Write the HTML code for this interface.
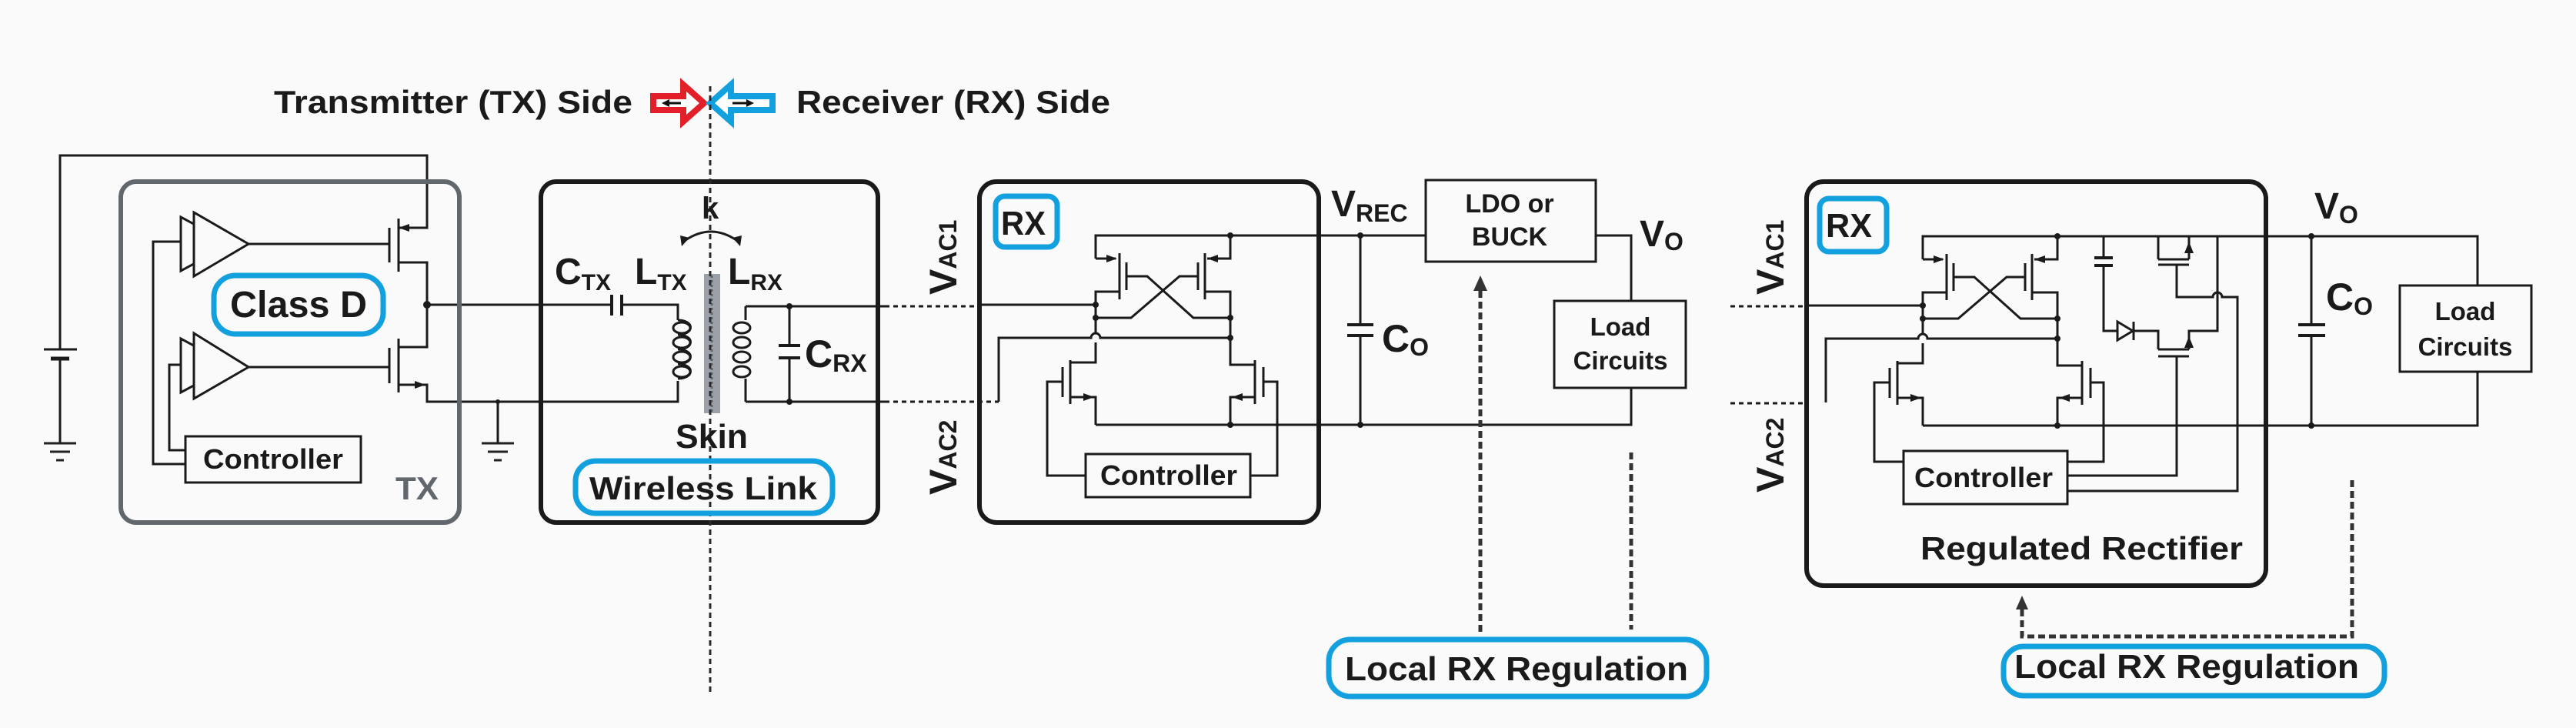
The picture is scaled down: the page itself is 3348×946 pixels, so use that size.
<!DOCTYPE html>
<html><head><meta charset="utf-8"><style>
html,body{margin:0;padding:0;background:#fafafa;}
svg{display:block;}
text{font-family:"Liberation Sans",Arial,sans-serif;font-weight:bold;fill:#1a1a1a;}
</style></head><body>
<svg width="3348" height="946" viewBox="0 0 3348 946" xmlns="http://www.w3.org/2000/svg">
<rect x="0" y="0" width="3348" height="946" fill="#fafafa"/>
<defs>
<g id="gnd"><path d="M-21,0 H21 M-13,11 H13 M-5,22 H5" stroke="#222" stroke-width="3" fill="none"/></g>
</defs>

<!-- Title -->
<text x="356" y="147" font-size="42" textLength="466" lengthAdjust="spacingAndGlyphs">Transmitter (TX) Side</text>
<text x="1035" y="147" font-size="42" textLength="408" lengthAdjust="spacingAndGlyphs">Receiver (RX) Side</text>
<polygon points="849,125 888,125 888,110 915,134 888,158 888,143 849,143" fill="#fff" stroke="#e3202a" stroke-width="8" stroke-linejoin="miter"/>
<path d="M885,134 H864" stroke="#111" stroke-width="3"/><polygon points="860,134 870,129 870,139" fill="#111"/>
<polygon points="1004,125 950,125 950,110 923,134 950,158 950,143 1004,143" fill="#fff" stroke="#12a0df" stroke-width="8"/>
<path d="M952,134 H975" stroke="#111" stroke-width="3"/><polygon points="980,134 970,129 970,139" fill="#111"/>

<g stroke="#1a1a1a" stroke-width="3" fill="none">
<!-- TX side wires -->
<path d="M78,454 V202 H555 V296 H518"/>
<path d="M57,454 H100"/><path d="M66,466 H90" stroke-width="5"/>
<path d="M78,466 V576"/>
<path d="M518,284 V353 M506,296 V341 M323,317 H506"/>
<path d="M518,341 H555 V451 H518"/>
<path d="M518,440 V510 M506,452 V498 M323,477 H506"/>
<path d="M518,500 H555 V522 H881 V495"/>
<path d="M555,396 H795 M808,396 H881 V416"/>
<path d="M795,383 V410 M808,383 V410" stroke-width="4"/>
<path d="M647,522 V576"/>
<path d="M235,314 H199 V603 H241"/>
<path d="M235,474 H220 V585 H241"/>
</g>
<polygon points="518,296 532,291 532,301" fill="#1a1a1a"/>
<polygon points="553,500 539,495 539,505" fill="#1a1a1a"/>
<circle cx="555" cy="396" r="5" fill="#1a1a1a"/>
<circle cx="647" cy="522" r="3" fill="#1a1a1a"/>
<use href="#gnd" x="78" y="576"/>
<use href="#gnd" x="647" y="576"/>
<!-- amps -->
<g stroke="#1a1a1a" stroke-width="3" fill="#fafafa">
<polygon points="235,282 235,352 300,317"/>
<polygon points="252,276 252,359 323,317"/>
<polygon points="235,440 235,510 300,475"/>
<polygon points="252,433 252,518 323,477"/>
</g>
<!-- TX box -->
<rect x="157" y="236" width="440" height="443" rx="20" fill="none" stroke="#62666d" stroke-width="6"/>
<rect x="241" y="567" width="228" height="60" fill="#fafafa" stroke="#1a1a1a" stroke-width="3"/>
<text x="264" y="609" font-size="36" textLength="182" lengthAdjust="spacingAndGlyphs">Controller</text>
<text x="514" y="649" font-size="42" textLength="56" lengthAdjust="spacingAndGlyphs" style="fill:#62666d">TX</text>
<rect x="278" y="358" width="220" height="76" rx="28" fill="#fafafa" stroke="#12a0df" stroke-width="7"/>
<text x="299" y="412" font-size="48" textLength="178" lengthAdjust="spacingAndGlyphs">Class D</text>

<!-- Wireless link box -->
<rect x="703" y="236" width="438" height="443" rx="20" fill="none" stroke="#1a1a1a" stroke-width="6"/>
<rect x="915" y="356" width="21" height="181" fill="#9ca1a9"/>
<path d="M925,358 V535" stroke="#5d626a" stroke-width="3" stroke-dasharray="3 3"/>
<g stroke="#1a1a1a" stroke-width="3" fill="none">
<path d="M881,416 c22,0 22,19 0,19 c22,0 22,19 0,19 c22,0 22,19 0,19 c22,0 22,19 0,19" />
<ellipse cx="886" cy="426" rx="11" ry="7"/><ellipse cx="886" cy="445" rx="11" ry="7"/><ellipse cx="886" cy="464" rx="11" ry="7"/><ellipse cx="886" cy="483" rx="11" ry="7"/>
<path d="M969,398 V416 M969,492 V522"/>
<ellipse cx="964" cy="426" rx="11" ry="7"/><ellipse cx="964" cy="445" rx="11" ry="7"/><ellipse cx="964" cy="464" rx="11" ry="7"/><ellipse cx="964" cy="483" rx="11" ry="7"/>
<path d="M969,398 H1150 M969,522 H1150"/>
<path d="M1026,398 V449 M1026,465 V522"/>
<path d="M1012,449 H1040 M1012,465 H1040" stroke-width="4"/>
<path d="M1150,398 H1271 M1150,522 H1298" stroke-dasharray="6 5"/>
<path d="M891,312 Q924,290 957,312"/>
</g>
<polygon points="886,320 884,306 896,309" fill="#1a1a1a"/>
<polygon points="962,320 964,306 952,309" fill="#1a1a1a"/>
<circle cx="1026" cy="398" r="4" fill="#1a1a1a"/><circle cx="1026" cy="522" r="4" fill="#1a1a1a"/>
<path d="M923,112 V900" stroke="#2a2a2a" stroke-width="3" stroke-dasharray="7 5"/>
<text x="912" y="284" font-size="40">k</text>
<text x="721" y="369" font-size="48">C<tspan font-size="30" dy="8">TX</tspan></text>
<text x="825" y="369" font-size="48">L<tspan font-size="30" dy="8">TX</tspan></text>
<text x="946" y="369" font-size="48">L<tspan font-size="30" dy="8">RX</tspan></text>
<text x="1046" y="477" font-size="50">C<tspan font-size="32" dy="6">RX</tspan></text>
<text x="878" y="582" font-size="44" textLength="94" lengthAdjust="spacingAndGlyphs">Skin</text>
<rect x="748" y="599" width="334" height="68" rx="26" fill="none" stroke="#12a0df" stroke-width="7"/>
<text x="766" y="649" font-size="42" textLength="296" lengthAdjust="spacingAndGlyphs">Wireless Link</text>

<!-- VAC labels -->
<text transform="translate(1243,383) rotate(-90)" font-size="50">V<tspan font-size="32">AC1</tspan></text>
<text transform="translate(1243,643) rotate(-90)" font-size="50">V<tspan font-size="32">AC2</tspan></text>
<text transform="translate(2318,383) rotate(-90)" font-size="50">V<tspan font-size="32">AC1</tspan></text>
<text transform="translate(2318,640) rotate(-90)" font-size="50">V<tspan font-size="32">AC2</tspan></text>
<path d="M2249,398 H2348 M2249,524 H2348" stroke="#1a1a1a" stroke-width="3" stroke-dasharray="6 5"/>

<!-- Rectifier core (first) -->
<g id="rect" stroke="#1a1a1a" stroke-width="3" fill="none">
<path d="M1424,336 V306 H1599 V336 H1569"/>
<path d="M1424,336 H1450"/>
<path d="M1455,329 V389 M1464,341 V377 M1566,329 V389 M1557,341 V377"/>
<path d="M1455,379 H1424 V433 M1424,445 V471 H1391"/>
<path d="M1566,379 H1599 V474 H1631"/>
<path d="M1464,359 H1491 L1551,413 H1599 M1557,359 H1533 L1470,413 H1424"/>
<path d="M1391,468 V525 M1381,477 V516 M1631,468 V525 M1642,477 V516"/>
<path d="M1391,516 H1424 V552 M1631,516 H1599 V552"/>
<path d="M1424,552 H1599"/>
<path d="M1271,396 H1424"/>
<path d="M1298,522 V439 H1418 A6,6 0 0 1 1430,439 H1599"/>
</g>
<g id="rectf" fill="#1a1a1a">
<polygon points="1452,336 1438,331 1438,341"/><polygon points="1569,336 1583,331 1583,341"/>
<polygon points="1422,516 1408,511 1408,521"/><polygon points="1601,516 1615,511 1615,521"/>
<circle cx="1424" cy="396" r="4"/><circle cx="1424" cy="413" r="4"/><circle cx="1599" cy="306" r="4"/><circle cx="1599" cy="413" r="4"/><circle cx="1599" cy="439" r="4"/><circle cx="1599" cy="552" r="4"/>
</g>
<use href="#rect" x="1075" y="1"/>
<use href="#rectf" x="1075" y="1"/>

<!-- first RX externals -->
<g stroke="#1a1a1a" stroke-width="3" fill="none">
<path d="M1599,306 H1853 M1599,552 H2120 V504"/>
<path d="M1381,496 H1361 V618 H1411 M1642,496 H1660 V618 H1625"/>
<path d="M1768,306 V422 M1768,436 V552"/>
<path d="M1751,422 H1785 M1751,436 H1785" stroke-width="4"/>
<path d="M2074,306 H2120 V391"/>
</g>
<circle cx="1768" cy="306" r="4" fill="#1a1a1a"/><circle cx="1768" cy="552" r="4" fill="#1a1a1a"/>
<rect x="1273" y="236" width="441" height="443" rx="22" fill="none" stroke="#1a1a1a" stroke-width="6"/>
<rect x="1411" y="590" width="214" height="56" fill="#fafafa" stroke="#1a1a1a" stroke-width="3"/>
<text x="1430" y="630" font-size="36" textLength="178" lengthAdjust="spacingAndGlyphs">Controller</text>
<rect x="1294" y="255" width="80" height="66" rx="12" fill="#fafafa" stroke="#12a0df" stroke-width="7"/>
<text x="1301" y="305" font-size="44" textLength="58" lengthAdjust="spacingAndGlyphs">RX</text>
<text x="1730" y="281" font-size="48">V<tspan font-size="32" dy="7">REC</tspan></text>
<text x="1796" y="457" font-size="50">C<tspan font-size="32" dy="5">O</tspan></text>
<rect x="1853" y="234" width="221" height="106" fill="#fafafa" stroke="#1a1a1a" stroke-width="3"/>
<text x="1962" y="276" font-size="34" text-anchor="middle">LDO or</text>
<text x="1962" y="319" font-size="34" text-anchor="middle">BUCK</text>
<text x="2131" y="320" font-size="48">V<tspan font-size="32" dy="5">O</tspan></text>
<rect x="2020" y="391" width="171" height="113" fill="#fafafa" stroke="#1a1a1a" stroke-width="3"/>
<text x="2106" y="436" font-size="33" text-anchor="middle">Load</text>
<text x="2106" y="480" font-size="33" text-anchor="middle">Circuits</text>
<path d="M1924,821 V372" stroke="#333" stroke-width="5" stroke-dasharray="9 5"/>
<polygon points="1924,358 1915,378 1933,378" fill="#333"/>
<path d="M2120,588 V818" stroke="#333" stroke-width="5" stroke-dasharray="9 5"/>
<rect x="1727" y="831" width="491" height="74" rx="28" fill="#fafafa" stroke="#12a0df" stroke-width="7"/>
<text x="1748" y="884" font-size="44" textLength="446" lengthAdjust="spacingAndGlyphs">Local RX Regulation</text>

<!-- second RX externals -->
<g stroke="#1a1a1a" stroke-width="3" fill="none">
<path d="M2674,307 H3220 V371 M2674,553 H3220 V483"/>
<path d="M2456,497 H2436 V600 H2474 M2717,497 H2734 V600 H2687"/>
<path d="M2734,307 V335 M2734,345 V430 H2752"/>
<path d="M2722,335 H2746 M2722,345 H2746" stroke-width="4"/>
<polygon points="2752,418 2752,442 2772,430" fill="#fafafa"/>
<path d="M2773,418 V442 M2773,430 H2805 V454"/>
<path d="M2805,454 H2845 M2805,463 H2845 M2845,454 V430 H2882 V307"/>
<path d="M2805,307 V337 M2845,337 V307 M2805,337 H2845 M2805,344 H2845"/>
<path d="M2829,344 V386 H2876 A6,6 0 0 1 2888,386 H2908 V638 H2687"/>
<path d="M2829,463 V618 H2687"/>
<path d="M3004,307 V422 M3004,436 V553"/>
<path d="M2987,422 H3022 M2987,436 H3022" stroke-width="4"/>
</g>
<polygon points="2845,437 2839,452 2851,452" fill="#1a1a1a"/>
<polygon points="2845,314 2839,329 2851,329" fill="#1a1a1a"/>
<circle cx="3004" cy="307" r="4" fill="#1a1a1a"/><circle cx="3004" cy="553" r="4" fill="#1a1a1a"/>
<rect x="2348" y="236" width="597" height="525" rx="22" fill="none" stroke="#1a1a1a" stroke-width="6"/>
<rect x="2474" y="586" width="213" height="69" fill="#fafafa" stroke="#1a1a1a" stroke-width="3"/>
<text x="2488" y="633" font-size="36" textLength="180" lengthAdjust="spacingAndGlyphs">Controller</text>
<rect x="2365" y="258" width="87" height="69" rx="12" fill="#fafafa" stroke="#12a0df" stroke-width="7"/>
<text x="2373" y="308" font-size="44" textLength="60" lengthAdjust="spacingAndGlyphs">RX</text>
<text x="2496" y="727" font-size="42" textLength="419" lengthAdjust="spacingAndGlyphs">Regulated Rectifier</text>
<text x="3008" y="284" font-size="48">V<tspan font-size="32" dy="6">O</tspan></text>
<text x="3023" y="403" font-size="50">C<tspan font-size="32" dy="6">O</tspan></text>
<rect x="3119" y="371" width="171" height="112" fill="#fafafa" stroke="#1a1a1a" stroke-width="3"/>
<text x="3204" y="416" font-size="33" text-anchor="middle">Load</text>
<text x="3204" y="462" font-size="33" text-anchor="middle">Circuits</text>
<path d="M3057,624 V827 H2628 V788" stroke="#333" stroke-width="5" stroke-dasharray="9 5" fill="none"/>
<polygon points="2628,774 2620,792 2636,792" fill="#333"/>
<rect x="2604" y="840" width="495" height="64" rx="26" fill="#fafafa" stroke="#12a0df" stroke-width="7"/>
<text x="2618" y="881" font-size="44" textLength="448" lengthAdjust="spacingAndGlyphs">Local RX Regulation</text>
</svg>
</body></html>
